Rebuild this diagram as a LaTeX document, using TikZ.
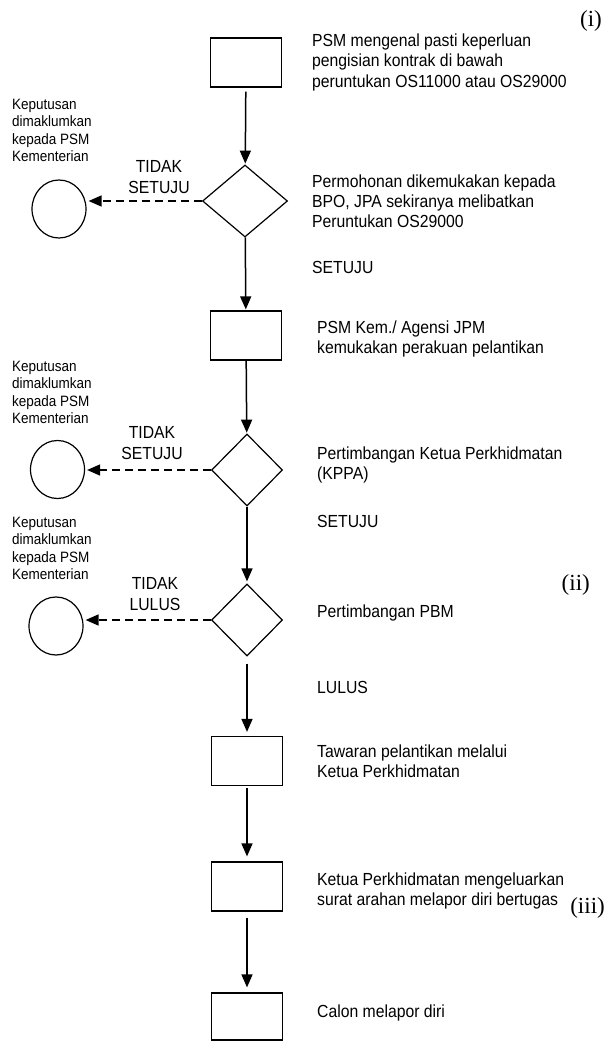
\documentclass[tikz,border=0pt]{standalone}
\usepackage{fontspec}
\setmainfont[FakeStretch=0.9]{Liberation Sans}
\newfontfamily\romanfont{Liberation Serif}
\usetikzlibrary{shapes.geometric,arrows.meta}

\begin{document}
\begin{tikzpicture}[ x=1pt, y=-1pt,
  box/.style={ draw, line width=1.2pt, minimum width=71pt, minimum height=49pt, inner sep=0pt },
  choice/.style={ draw, diamond, line width=1.2pt, minimum width=71pt, minimum height=72pt, inner sep=0pt },
  endpoint/.style={ draw, ellipse, line width=1.2pt, minimum width=54pt, minimum height=58pt, inner sep=0pt },
  flow/.style={ line width=1.5pt, -{Triangle[length=13pt,width=11pt]} },
  back/.style={ flow, dash pattern=on 8pt off 5pt, shorten >=2pt },
  note/.style={ anchor=base west, align=left, font=\fontsize{17.5}{20}\selectfont, inner sep=0pt },
  small/.style={ anchor=base west, align=left, font=\fontsize{15}{17.5}\selectfont, inner sep=0pt },
  answer/.style={ anchor=base, align=center, font=\fontsize{17.5}{21}\selectfont, inner sep=0pt },
  part/.style={ anchor=base east, font=\romanfont\fontsize{23}{23}\selectfont, inner sep=0pt } ]
  \useasboundingbox [ fill=white ] (0,0) rectangle (608,1041);

  \node [ box ] (mula) at (246,62.5) {};
  \node [ choice, minimum width=85pt ] (bpo) at (245,201) {};
  \node [ box ] (perakuan) at (246,335.5) {};
  \node [ choice ] (kppa) at (247,470) {};
  \node [ choice ] (pbm) at (247,620) {};
  \node [ box ] (tawaran) at (247,761) {};
  \node [ box ] (arahan) at (247,886.5) {};
  \node [ box, minimum height=47pt ] (lapor) at (247,1016.5) {};

  \node [ endpoint ] (tolakbpo) at (59,209) {};
  \node [ endpoint ] (tolakkppa) at (57.5,469.5) {};
  \node [ endpoint ] (tolakpbm) at (56,626) {};

  \draw [ flow, shorten <=4pt, shorten >=1pt ] (mula) -- (bpo);
  \draw [ flow, shorten >=1pt ] (bpo) -- (perakuan);
  \draw [ flow, shorten >=1pt ] (perakuan) -- (kppa);
  \draw [ flow, shorten >=2pt ] (kppa) -- (pbm);
  \draw [ flow, shorten <=7pt, shorten >=4pt ] (pbm) -- (tawaran);
  \draw [ flow, shorten <=2pt, shorten >=5pt ] (tawaran) -- (arahan);
  \draw [ flow, shorten <=6pt, shorten >=5pt ] (arahan) -- (lapor);

  \draw [ back ] (bpo.west) -- (bpo.west -| tolakbpo.east);
  \draw [ back ] (kppa.west) -- (kppa.west -| tolakkppa.east);
  \draw [ back ] (pbm.west) -- (pbm.west -| tolakpbm.east);

  \node [ note ] (tmula) at (312,87) {PSM mengenal pasti keperluan\\pengisian kontrak di bawah\\peruntukan OS11000 atau OS29000};
  \node [ note ] (tbpo) at (312,227) {Permohonan dikemukakan kepada\\BPO, JPA sekiranya melibatkan\\Peruntukan OS29000};
  \node [ note ] (setuju1) at (312,273) {SETUJU};
  \node [ note ] (tperakuan) at (317,353) {PSM Kem./ Agensi JPM\\kemukakan perakuan pelantikan};
  \node [ note ] (tkppa) at (317,479) {Pertimbangan Ketua Perkhidmatan\\(KPPA)};
  \node [ note ] (setuju2) at (317,527) {SETUJU};
  \node [ note ] (tpbm) at (317,617) {Pertimbangan PBM};
  \node [ note ] (lulus) at (317,693) {LULUS};
  \node [ note ] (ttawaran) at (317,777) {Tawaran pelantikan melalui\\Ketua Perkhidmatan};
  \node [ note ] (tarahan) at (317,905) {Ketua Perkhidmatan mengeluarkan\\surat arahan melapor diri bertugas};
  \node [ note ] (tlapor) at (317,1017) {Calon melapor diri};

  \node [ small ] (kbpo) at (12,161.5) {Keputusan\\dimaklumkan\\kepada PSM\\Kementerian};
  \node [ small ] (kkppa) at (12,423.5) {Keputusan\\dimaklumkan\\kepada PSM\\Kementerian};
  \node [ small ] (kpbm) at (12,579.5) {Keputusan\\dimaklumkan\\kepada PSM\\Kementerian};

  \node [ answer ] (tidakbpo) at (159,193) {TIDAK\\SETUJU};
  \node [ answer ] (tidakkppa) at (152,459) {TIDAK\\SETUJU};
  \node [ answer ] (tidakpbm) at (155,610) {TIDAK\\LULUS};

  \node [ part ] (bahagian1) at (602,27) {(i)};
  \node [ part ] (bahagian2) at (590,590) {(ii)};
  \node [ part ] (bahagian3) at (605,913) {(iii)};
\end{tikzpicture}
\end{document}
